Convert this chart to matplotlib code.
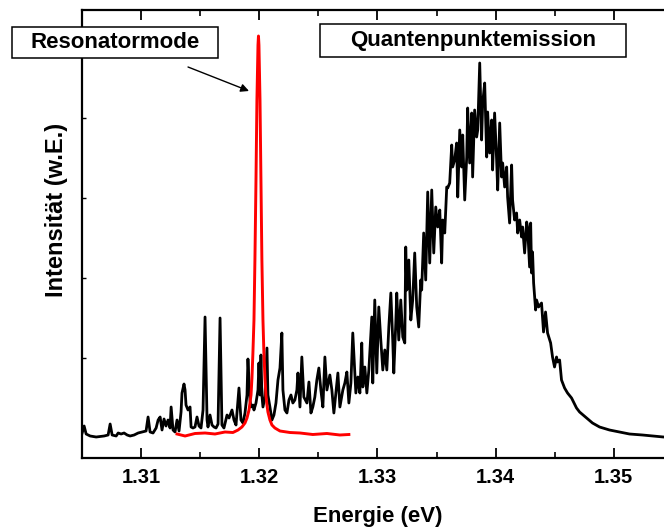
import matplotlib
matplotlib.use("Agg")
import matplotlib.pyplot as plt
from matplotlib.patches import Rectangle

plt.rcParams["font.family"] = ["Liberation Sans", "DejaVu Sans"]
plt.rcParams["font.weight"] = "bold"

# Quantenpunktemission (schwarz), Energie in eV, Intensitaet in w.E.
qd_energy = [
    1.30501, 1.30518, 1.30535, 1.30569, 1.30620, 1.30687, 1.30721, 1.30738, 1.30755, 1.30789,
    1.30806, 1.30831, 1.30856, 1.30882, 1.30907, 1.30941, 1.30975, 1.31008, 1.31042, 1.31059,
    1.31076, 1.31101, 1.31127, 1.31144, 1.31161, 1.31177, 1.31194, 1.31211, 1.31228, 1.31245,
    1.31254, 1.31270, 1.31287, 1.31304, 1.31321, 1.31338, 1.31346, 1.31363, 1.31372, 1.31380,
    1.31397, 1.31414, 1.31423, 1.31439, 1.31456, 1.31473, 1.31490, 1.31507, 1.31524, 1.31541,
    1.31558, 1.31566, 1.31583, 1.31600, 1.31617, 1.31634, 1.31651, 1.31668, 1.31684, 1.31701,
    1.31727, 1.31744, 1.31769, 1.31786, 1.31803, 1.31820, 1.31828, 1.31845, 1.31862, 1.31879,
    1.31896, 1.31904, 1.31921, 1.31930, 1.31946, 1.31955, 1.31972, 1.31989, 1.31997, 1.32006,
    1.32014, 1.32022, 1.32031, 1.32048, 1.32065, 1.32073, 1.32090, 1.32107, 1.32124, 1.32141,
    1.32158, 1.32175, 1.32191, 1.32200, 1.32217, 1.32234, 1.32251, 1.32268, 1.32284, 1.32301,
    1.32318, 1.32327, 1.32344, 1.32360, 1.32377, 1.32403, 1.32420, 1.32437, 1.32453, 1.32470,
    1.32487, 1.32504, 1.32521, 1.32538, 1.32555, 1.32572, 1.32597, 1.32614, 1.32631, 1.32648,
    1.32665, 1.32682, 1.32707, 1.32724, 1.32741, 1.32758, 1.32775, 1.32791, 1.32817, 1.32834,
    1.32851, 1.32867, 1.32876, 1.32893, 1.32910, 1.32927, 1.32952, 1.32960, 1.32977, 1.32994,
    1.33011, 1.33028, 1.33045, 1.33062, 1.33079, 1.33096, 1.33113, 1.33129, 1.33138, 1.33155,
    1.33163, 1.33180, 1.33197, 1.33214, 1.33231, 1.33239, 1.33248, 1.33265, 1.33282, 1.33298,
    1.33315, 1.33332, 1.33349, 1.33366, 1.33374, 1.33391, 1.33408, 1.33425, 1.33442, 1.33459,
    1.33476, 1.33493, 1.33510, 1.33527, 1.33543, 1.33552, 1.33569, 1.33586, 1.33594, 1.33611,
    1.33628, 1.33636, 1.33653, 1.33670, 1.33679, 1.33696, 1.33712, 1.33721, 1.33738, 1.33755,
    1.33763, 1.33780, 1.33797, 1.33805, 1.33822, 1.33839, 1.33848, 1.33865, 1.33881, 1.33890,
    1.33907, 1.33924, 1.33932, 1.33949, 1.33966, 1.33974, 1.33991, 1.34008, 1.34017, 1.34034,
    1.34050, 1.34059, 1.34076, 1.34093, 1.34101, 1.34118, 1.34135, 1.34143, 1.34160, 1.34177,
    1.34186, 1.34203, 1.34219, 1.34228, 1.34245, 1.34262, 1.34270, 1.34287, 1.34296, 1.34304,
    1.34312, 1.34321, 1.34338, 1.34346, 1.34363, 1.34388, 1.34405, 1.34422, 1.34439, 1.34465,
    1.34481, 1.34498, 1.34515, 1.34524, 1.34541, 1.34557, 1.34583, 1.34608, 1.34642, 1.34684,
    1.34710, 1.34769, 1.34819, 1.34879, 1.34963, 1.35048, 1.35132, 1.35242, 1.35419, 1.35495,
]
qd_intensity = [
    250, 320, 240, 220, 210, 220, 230, 340, 230, 220,
    250, 240, 250, 230, 220, 230, 250, 260, 270, 410,
    260, 250, 300, 380, 410, 280, 390, 320, 380, 300,
    510, 280, 260, 380, 270, 460, 650, 740, 680, 530,
    480, 510, 310, 300, 310, 410, 320, 300, 480, 1410,
    380, 310, 430, 330, 310, 300, 340, 1400, 330, 300,
    430, 400, 480, 380, 330, 580, 700, 380, 350, 450,
    630, 990, 580, 510, 530, 480, 550, 680, 950, 630,
    1030, 630, 510, 610, 1100, 630, 510, 380, 430, 550,
    780, 900, 1250, 680, 480, 450, 580, 630, 550, 580,
    680, 850, 510, 1010, 610, 550, 760, 450, 510, 610,
    780, 900, 680, 510, 1010, 680, 830, 680, 450, 650,
    850, 510, 680, 750, 860, 550, 750, 1250, 650, 810,
    650, 1150, 710, 910, 650, 880, 1410, 750, 1580, 850,
    1510, 1180, 880, 1080, 880, 1310, 1650, 1180, 850, 1350,
    1650, 1180, 1580, 1210, 1150, 2110, 1680, 1980, 1380, 1580,
    2050, 1510, 1310, 1780, 1680, 2250, 1780, 2660, 1950, 2680,
    2050, 2510, 2310, 2480, 1950, 2380, 2250, 2710, 2700, 2750,
    3130, 2910, 2980, 3150, 2610, 3280, 2910, 3230, 2580, 3010,
    3500, 2950, 3450, 2810, 3480, 3210, 3280, 3950, 3180, 3550,
    3750, 3010, 3460, 3050, 3380, 2880, 3450, 2980, 2680, 3350,
    2810, 2950, 2710, 2910, 2610, 2350, 2930, 2580, 2380, 2450,
    2250, 2380, 2210, 2310, 2050, 2360, 2310, 1910, 2350, 1850,
    2060, 1750, 1480, 1580, 1510, 1550, 1260, 1460, 1250, 1150,
    1010, 910, 1010, 960, 980, 780, 700, 650, 600, 500,
    460, 400, 350, 310, 280, 260, 240, 230, 210, 210,
]

# Resonatormode (rot)
mode_energy = [
    1.31304, 1.31372, 1.31456, 1.31541, 1.31625, 1.31710, 1.31777, 1.31820, 1.31853, 1.31879,
    1.31896, 1.31913, 1.31921, 1.31930, 1.31938, 1.31946, 1.31955, 1.31963, 1.31972, 1.31980,
    1.31989, 1.31993, 1.31997, 1.32006, 1.32014, 1.32022, 1.32031, 1.32039, 1.32048, 1.32056,
    1.32065, 1.32073, 1.32090, 1.32107, 1.32132, 1.32175, 1.32259, 1.32344, 1.32453, 1.32572,
    1.32682, 1.32758,
]
mode_intensity = [
    240, 220, 245, 250, 240, 260, 255, 280, 310, 350,
    400, 480, 550, 630, 800, 1050, 1380, 1980, 2780, 3580,
    4130, 4220, 4130, 3580, 2780, 1980, 1380, 1050, 800, 630,
    530, 460, 380, 330, 300, 270, 255, 250, 235, 245,
    230, 235,
]

fig = plt.figure(figsize=(6.64, 5.32), dpi=100)
ax = fig.add_axes([0.1235, 0.1391, 0.890, 0.8421])

ax.plot(qd_energy, qd_intensity, color="black", linewidth=2.0, zorder=2)
ax.plot(mode_energy, mode_intensity, color="red", linewidth=2.1, zorder=3)

ax.set_xlim(1.305, 1.355)
ax.set_ylim(0, 4480)
ax.set_xticks([1.31, 1.32, 1.33, 1.34, 1.35])
ax.set_xticks([1.305, 1.315, 1.325, 1.335, 1.345], minor=True)
ax.set_xticklabels(["1.31", "1.32", "1.33", "1.34", "1.35"])
ax.set_yticks([1000, 1800, 2600, 3400])
ax.set_yticklabels([])

ax.tick_params(axis="x", which="major", direction="in", length=7, width=1.3,
               top=True, labelsize=14.5, pad=7)
ax.tick_params(axis="x", which="minor", direction="in", length=4, width=1.2, top=True)
ax.tick_params(axis="y", which="major", direction="in", length=3, width=1.0, right=True)
for s in ax.spines.values():
    s.set_linewidth(1.6)

ax.set_xlabel("Energie (eV)", fontsize=16, fontweight="bold", labelpad=14)
ax.set_ylabel("Intensität (w.E.)", fontsize=17, fontweight="bold")
ax.yaxis.set_label_coords(-0.024, 0.5536)

# Beschriftungskaesten
def label_box(x0, y0, x1, y1, text):
    W, H = 664.0, 532.0
    rect = Rectangle((x0 / W, 1 - y1 / H), (x1 - x0) / W, (y1 - y0) / H,
                     transform=fig.transFigure, facecolor="white",
                     edgecolor="black", linewidth=1.1, zorder=5)
    fig.add_artist(rect)
    fig.text((x0 + x1) / 2 / W, 1 - (y0 + y1) / 2 / H, text, ha="center",
             va="center", fontsize=16, fontweight="bold", zorder=6)

label_box(12, 27, 218, 58, "Resonatormode")
label_box(320, 24, 626, 57, "Quantenpunktemission")

ax.annotate("", xy=(1.31913, 3670), xytext=(1.31397, 3910),
            arrowprops=dict(arrowstyle="-|>", color="black", lw=1.0,
                            mutation_scale=12, shrinkA=0, shrinkB=0))

plt.savefig("out.png", dpi=100)
